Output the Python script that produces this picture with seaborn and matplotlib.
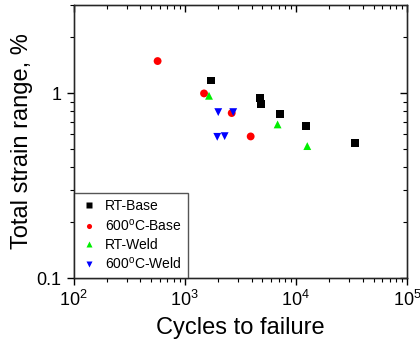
import matplotlib
matplotlib.use("Agg")
import matplotlib.pyplot as plt
import seaborn as sns
import pandas as pd
from matplotlib.ticker import LogLocator, NullFormatter, FixedFormatter, FixedLocator

sns.set_style("white")
plt.rcParams['font.family'] = ['Liberation Sans', 'DejaVu Sans']
plt.rcParams['mathtext.fontset'] = 'custom'
plt.rcParams['mathtext.rm'] = 'Liberation Sans'
plt.rcParams['mathtext.it'] = 'Liberation Sans'
plt.rcParams['mathtext.default'] = 'regular'
plt.rcParams['text.color'] = 'black'
plt.rcParams['axes.labelcolor'] = 'black'
plt.rcParams['xtick.color'] = 'black'
plt.rcParams['ytick.color'] = 'black'

series_names = ["RT-Base", "600$^{o}$C-Base", "RT-Weld", "600$^{o}$C-Weld"]
colors = ["black", "red", "#00ee00", "blue"]
markers = ["s", "o", "^", "v"]

rt_base_N = [1734, 4720, 4890, 7245, 12330, 33800]
rt_base_e = [1.17, 0.94, 0.872, 0.773, 0.663, 0.539]
hot_base_N = [571, 1494, 2650, 3925]
hot_base_e = [1.49, 0.996, 0.78, 0.583]
rt_weld_N = [1656, 6855, 12680]
rt_weld_e = [0.967, 0.677, 0.517]
hot_weld_N = [2005, 2735, 1964, 2290]
hot_weld_e = [0.789, 0.789, 0.58, 0.585]

frames = []
for name, N, e in zip(series_names,
                      [rt_base_N, hot_base_N, rt_weld_N, hot_weld_N],
                      [rt_base_e, hot_base_e, rt_weld_e, hot_weld_e]):
    frames.append(pd.DataFrame({"N": N, "e": e, "series": name}))
df = pd.concat(frames, ignore_index=True)

fig = plt.figure(figsize=(4.2, 3.45), dpi=100)
ax = fig.add_axes([0.175, 0.194, 0.794, 0.792])

sns.scatterplot(data=df, x="N", y="e", hue="series", style="series",
                hue_order=series_names, style_order=series_names,
                palette=colors, markers=markers, s=32, edgecolor="none",
                ax=ax, legend=True)

ax.set_xscale("log")
ax.set_yscale("log")
ax.set_xlim(100, 1e5)
ax.set_ylim(0.1, 3.0)

ax.xaxis.set_major_locator(FixedLocator([1e2, 1e3, 1e4, 1e5]))
ax.xaxis.set_major_formatter(FixedFormatter(["$10^2$", "$10^3$", "$10^4$", "$10^5$"]))
ax.xaxis.set_minor_locator(LogLocator(base=10, subs=range(2, 10)))
ax.xaxis.set_minor_formatter(NullFormatter())
ax.yaxis.set_major_locator(FixedLocator([0.1, 1]))
ax.yaxis.set_major_formatter(FixedFormatter(["0.1", "1"]))
ax.yaxis.set_minor_locator(LogLocator(base=10, subs=range(2, 10)))
ax.yaxis.set_minor_formatter(NullFormatter())

for s in ax.spines.values():
    s.set_visible(True)
    s.set_color("black")
    s.set_linewidth(1.0)

ax.tick_params(axis="both", which="major", direction="out", length=5, width=1,
               labelsize=13, color="black")
ax.tick_params(axis="both", which="minor", direction="out", length=3, width=0.8,
               color="black")
ax.tick_params(which="both", top=False, right=False)

# top/right inward ticks via twin axes
ax2 = ax.twinx()
ax2.set_yscale("log"); ax2.set_ylim(ax.get_ylim())
ax2.yaxis.set_major_locator(FixedLocator([0.1, 1]))
ax2.yaxis.set_minor_locator(LogLocator(base=10, subs=range(2, 10)))
ax2.yaxis.set_major_formatter(NullFormatter()); ax2.yaxis.set_minor_formatter(NullFormatter())
ax2.tick_params(which="major", direction="in", length=5, width=1)
ax2.tick_params(which="minor", direction="in", length=3, width=0.8)
ax3 = ax.twiny()
ax3.set_xscale("log"); ax3.set_xlim(ax.get_xlim())
ax3.xaxis.set_major_locator(FixedLocator([1e2, 1e3, 1e4, 1e5]))
ax3.xaxis.set_minor_locator(LogLocator(base=10, subs=range(2, 10)))
ax3.xaxis.set_major_formatter(NullFormatter()); ax3.xaxis.set_minor_formatter(NullFormatter())
ax3.tick_params(which="major", direction="in", length=5, width=1)
ax3.tick_params(which="minor", direction="in", length=3, width=0.8)

ax.set_xlabel("Cycles to failure", fontsize=17, labelpad=5)
ax.set_ylabel("Total strain range, %", fontsize=17, labelpad=3)

handles, labels = ax.get_legend_handles_labels()
leg = ax.legend(handles, labels, loc="lower left", fontsize=10, frameon=True,
                fancybox=False, edgecolor="#555555", framealpha=1,
                borderaxespad=0, handletextpad=0.5, labelspacing=0.3,
                handlelength=1.3, markerscale=0.65, borderpad=0.45)
leg.get_frame().set_linewidth(1.0)

fig.savefig("out.png", dpi=100)
